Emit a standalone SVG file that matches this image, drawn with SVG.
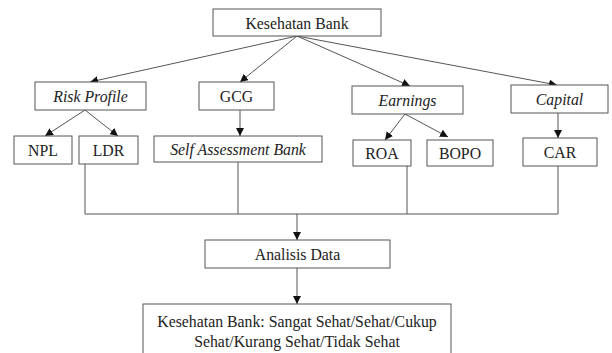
<svg xmlns="http://www.w3.org/2000/svg" width="612" height="353" viewBox="0 0 612 353">
<defs>
<marker id="ah" markerWidth="8" markerHeight="8" viewBox="0 0 10 10" refX="10" refY="5" orient="auto" markerUnits="userSpaceOnUse">
<path d="M0,0 L10,5 L0,10 z" fill="#111"/>
</marker>
<style>
rect{fill:#fff;stroke:#555;stroke-width:1}
text{font-size:15.8px;fill:#222;text-anchor:middle}
.i{font-style:italic}
.c line,.c polyline{stroke:#555;stroke-width:1;fill:none}
.a{marker-end:url(#ah)}
</style>
</defs>
<rect x="0" y="0" width="612" height="353" style="stroke:none"/>
<g class="c" id="connectors">
<line class="a" x1="297" y1="36" x2="90" y2="82"/>
<line class="a" x1="297" y1="36" x2="240" y2="82"/>
<line class="a" x1="297" y1="36" x2="410" y2="86"/>
<line class="a" x1="297" y1="36" x2="557" y2="85"/>
<line class="a" x1="85" y1="110" x2="45" y2="136"/>
<line class="a" x1="85" y1="110" x2="118" y2="136"/>
<line class="a" x1="240" y1="110" x2="240" y2="136"/>
<line class="a" x1="405" y1="114" x2="385" y2="140"/>
<line class="a" x1="405" y1="114" x2="448" y2="137"/>
<line class="a" x1="558" y1="113" x2="558" y2="138"/>
<polyline points="85,164 85,214 558,214 558,166"/>
<line x1="238" y1="162" x2="238" y2="214"/>
<line x1="407" y1="166" x2="407" y2="214"/>
<line class="a" x1="297" y1="214" x2="297" y2="240"/>
<line class="a" x1="297" y1="268" x2="297" y2="304"/>
</g>
<g font-family="Liberation Serif, Tinos, Times New Roman, serif">
<g id="kesehatan-bank"><rect x="213" y="9" width="168" height="27"/><text x="297" y="28.5">Kesehatan Bank</text></g>
<g id="risk-profile"><rect x="35" y="82" width="111" height="28"/><text class="i" x="90.5" y="101.5">Risk Profile</text></g>
<g id="gcg"><rect x="199" y="82" width="75" height="28"/><text x="236.5" y="101.5">GCG</text></g>
<g id="earnings"><rect x="352" y="86" width="111" height="28"/><text class="i" x="407.5" y="105.5">Earnings</text></g>
<g id="capital"><rect x="511" y="85" width="97" height="28"/><text class="i" x="559.5" y="104.5">Capital</text></g>
<g id="npl"><rect x="14" y="136" width="58" height="28"/><text x="43" y="155.5">NPL</text></g>
<g id="ldr"><rect x="79" y="136" width="59" height="28"/><text x="108.5" y="155.5">LDR</text></g>
<g id="self-assessment"><rect x="154" y="136" width="168" height="26"/><text class="i" x="238" y="154.5">Self Assessment Bank</text></g>
<g id="roa"><rect x="353" y="140" width="58" height="26"/><text x="382" y="158.5">ROA</text></g>
<g id="bopo"><rect x="427" y="140" width="66" height="26"/><text x="460" y="158.5">BOPO</text></g>
<g id="car"><rect x="523" y="138" width="74" height="28"/><text x="560" y="157.5">CAR</text></g>
<g id="analisis-data"><rect x="205" y="240" width="185" height="28"/><text x="297.5" y="259.5">Analisis Data</text></g>
<g id="hasil"><rect x="143" y="304" width="308" height="60"/><text x="297" y="327">Kesehatan Bank: Sangat Sehat/Sehat/Cukup</text><text x="297" y="347">Sehat/Kurang Sehat/Tidak Sehat</text></g>
</g>
</svg>
